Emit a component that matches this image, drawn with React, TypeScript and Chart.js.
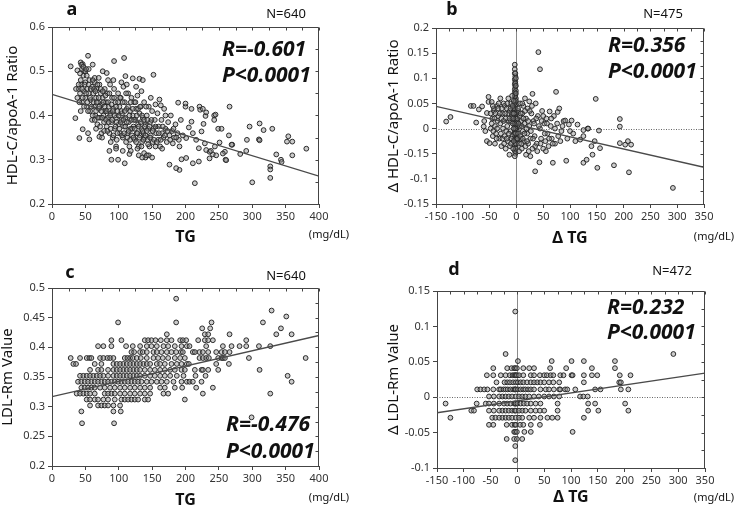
import React, { useEffect, useRef } from "react";
import { Chart, registerables } from "chart.js";

Chart.register(...registerables);

// ---------------- tick labels ----------------
const tgTickLabels = ["0", "50", "100", "150", "200", "250", "300", "350", "400"];
const deltaTgTickLabels = ["-150", "-100", "-50", "0", "50", "100", "150", "200", "250", "300", "350"];
const ratioTickLabels = ["0.2", "0.3", "0.4", "0.5", "0.6"];
// (the original figure repeats "-0.15" at the -0.05 position)
const deltaRatioTickLabels = ["-0.15", "-0.1", "-0.15", "0", "0.05", "0.1", "0.15", "0.2"];
const ldlRmTickLabels = ["0.2", "0.25", "0.3", "0.35", "0.4", "0.45", "0.5"];
const deltaLdlRmTickLabels = ["-0.1", "-0.05", "0", "0.05", "0.1", "0.15"];

// ---------------- panel a : TG vs HDL-C/apoA-1 ratio ----------------
const panelA_TG_Ratio: [number, number][] = [
  [28, 0.511], [54, 0.535], [43, 0.52], [46, 0.516], [93, 0.523], [108, 0.53], [152, 0.492], [266, 0.42],
  [214, 0.247], [300, 0.249], [327, 0.259], [327, 0.285], [381, 0.325], [354, 0.353], [352, 0.341], [360, 0.341],
  [360, 0.31], [343, 0.3], [336, 0.312], [330, 0.37], [311, 0.382], [317, 0.367], [296, 0.375], [310, 0.346],
  [292, 0.345], [291, 0.32], [282, 0.313], [265, 0.355], [270, 0.334], [260, 0.3], [259, 0.318], [249, 0.37],
  [251, 0.339], [244, 0.33], [241, 0.312], [221, 0.42], [222, 0.413], [209, 0.415], [200, 0.42], [200, 0.427],
  [189, 0.429], [230, 0.399], [243, 0.4], [243, 0.39], [227, 0.381], [205, 0.373], [209, 0.386], [211, 0.36],
  [201, 0.349], [216, 0.345], [220, 0.326], [220, 0.296], [211, 0.292], [201, 0.304], [194, 0.301], [191, 0.277],
  [186, 0.281], [176, 0.289], [191, 0.33], [181, 0.337], [236, 0.318], [236, 0.303], [229, 0.337], [224, 0.364],
  [161, 0.436], [163, 0.423], [131, 0.483], [136, 0.48], [121, 0.484], [110, 0.489], [76, 0.5], [82, 0.496],
  [61, 0.515], [38, 0.502], [48, 0.5], [89, 0.3], [99, 0.3], [109, 0.292], [116, 0.313], [96, 0.33],
  [41, 0.349], [54, 0.36], [56, 0.346], [46, 0.369], [35, 0.394], [71, 0.352], [226, 0.415], [231, 0.407],
  [245, 0.402], [254, 0.37], [256, 0.314], [261, 0.299], [246, 0.31], [238, 0.32], [231, 0.322], [269, 0.334],
  [311, 0.344], [344, 0.295], [327, 0.278],
  [40, 0.46], [42, 0.45], [44, 0.47], [45, 0.43], [47, 0.49], [48, 0.455], [50, 0.44], [50, 0.475],
  [52, 0.42], [53, 0.46], [55, 0.45], [56, 0.48], [57, 0.41], [58, 0.435], [60, 0.465], [60, 0.39],
  [43, 0.41], [38, 0.44], [36, 0.46], [50, 0.5], [55, 0.505], [45, 0.505], [42, 0.495], [40, 0.47],
  [44, 0.515], [47, 0.51], [51, 0.505],
  [62, 0.45], [63, 0.42], [64, 0.475], [65, 0.4], [66, 0.44], [67, 0.46], [68, 0.38], [69, 0.43],
  [70, 0.415], [71, 0.47], [72, 0.395], [73, 0.45], [74, 0.36], [75, 0.425], [76, 0.44], [77, 0.4],
  [78, 0.385], [79, 0.46], [80, 0.41], [64, 0.485], [70, 0.485], [75, 0.35], [66, 0.37],
  [81, 0.43], [82, 0.375], [83, 0.45], [84, 0.395], [85, 0.42], [86, 0.36], [87, 0.47], [88, 0.405],
  [89, 0.385], [90, 0.44], [91, 0.35], [92, 0.415], [93, 0.46], [94, 0.37], [95, 0.43], [96, 0.395],
  [97, 0.345], [98, 0.41], [99, 0.45], [100, 0.38], [84, 0.48], [92, 0.48], [88, 0.34], [96, 0.325], [86, 0.32],
  [101, 0.42], [102, 0.36], [103, 0.44], [104, 0.39], [105, 0.405], [106, 0.35], [107, 0.465], [108, 0.375],
  [109, 0.43], [110, 0.395], [111, 0.34], [112, 0.415], [113, 0.36], [114, 0.45], [115, 0.385], [116, 0.33],
  [117, 0.41], [118, 0.37], [119, 0.44], [120, 0.355], [104, 0.475], [112, 0.47], [118, 0.32], [106, 0.32],
  [121, 0.4], [122, 0.375], [123, 0.43], [124, 0.345], [125, 0.39], [126, 0.415], [127, 0.36], [128, 0.445],
  [129, 0.38], [130, 0.33], [131, 0.405], [132, 0.355], [133, 0.42], [134, 0.37], [135, 0.34], [136, 0.395],
  [137, 0.36], [138, 0.43], [139, 0.35], [140, 0.38], [126, 0.465], [134, 0.455], [130, 0.31], [138, 0.315],
  [142, 0.4], [143, 0.345], [144, 0.37], [145, 0.42], [146, 0.33], [147, 0.385], [148, 0.355], [150, 0.41],
  [151, 0.34], [152, 0.37], [154, 0.39], [155, 0.33], [156, 0.36], [158, 0.405], [159, 0.345], [160, 0.375],
  [162, 0.33], [164, 0.39], [165, 0.36], [167, 0.35], [168, 0.415], [170, 0.37], [172, 0.34], [174, 0.385],
  [176, 0.355], [178, 0.4], [180, 0.365], [183, 0.35], [185, 0.38], [188, 0.36], [190, 0.345], [193, 0.39],
  [196, 0.355], [145, 0.31], [150, 0.305], [165, 0.325], [140, 0.305], [148, 0.44], [155, 0.425], [170, 0.4],
  [135, 0.305], [142, 0.31], [128, 0.325],
  [41, 0.43], [43, 0.48], [45, 0.46], [46, 0.44], [48, 0.42], [49, 0.47], [51, 0.45], [52, 0.49],
  [53, 0.43], [54, 0.41], [55, 0.47], [57, 0.44], [58, 0.46], [59, 0.42], [61, 0.48], [61, 0.4],
  [62, 0.43], [63, 0.46], [64, 0.39], [65, 0.455], [66, 0.41], [67, 0.43], [68, 0.47], [69, 0.395],
  [70, 0.44], [71, 0.42], [72, 0.375], [73, 0.46], [74, 0.41], [75, 0.395], [76, 0.455], [77, 0.43],
  [78, 0.365], [79, 0.42], [80, 0.445], [81, 0.39], [82, 0.41], [83, 0.365], [84, 0.43], [85, 0.385],
  [86, 0.45], [87, 0.4], [88, 0.37], [89, 0.425], [90, 0.39], [91, 0.41], [92, 0.355], [93, 0.44],
  [94, 0.4], [95, 0.375], [96, 0.42], [97, 0.385], [98, 0.36], [99, 0.43], [100, 0.4], [101, 0.37],
  [102, 0.44], [103, 0.385], [104, 0.41], [105, 0.355], [106, 0.43], [107, 0.39], [108, 0.36], [109, 0.41],
  [110, 0.375], [111, 0.45], [112, 0.385], [113, 0.35], [114, 0.42], [115, 0.365], [116, 0.4], [117, 0.345],
  [118, 0.43], [119, 0.39], [120, 0.37], [121, 0.415], [122, 0.35], [123, 0.39], [124, 0.37], [125, 0.43],
  [126, 0.34], [127, 0.4], [128, 0.36], [129, 0.415], [130, 0.375], [131, 0.35], [132, 0.42], [133, 0.385],
  [134, 0.33], [135, 0.4], [136, 0.365], [137, 0.345], [138, 0.39], [139, 0.375], [140, 0.355], [141, 0.42],
  [142, 0.365], [143, 0.39], [144, 0.335], [146, 0.375], [147, 0.35], [149, 0.39], [151, 0.365], [153, 0.345],
  [155, 0.375], [157, 0.34], [160, 0.36], [163, 0.345], [166, 0.375], [169, 0.355], [173, 0.365], [177, 0.345],
  [182, 0.37], [186, 0.35],
];
const fitA_TG = [0, 400];
const fitA_Ratio = [0.448, 0.263];

// ---------------- panel b : ΔTG vs ΔHDL-C/apoA-1 ratio ----------------
const panelB_dTG_dRatio: [number, number][] = [
  [-3, 0.127], [-3, 0.118], [-3, 0.11], [-2, 0.104], [-3, 0.098], [-2, 0.093], [-3, 0.088], [-2, 0.083],
  [-3, 0.078], [-1, 0.075], [-3, 0.072], [-2, 0.068], [-3, 0.064], [-1, 0.06], [-2, 0.056], [-3, 0.052],
  [-1, 0.048], [-2, 0.044], [-3, 0.04], [-1, 0.036], [-2, 0.032], [-3, 0.028], [-1, 0.024], [-2, 0.02],
  [-3, 0.016], [-1, 0.012], [-2, 0.008], [-3, 0.004], [-1, 0.0], [-2, -0.004], [-3, -0.008], [-1, -0.012],
  [-2, -0.016], [-3, -0.02], [-1, -0.024], [-2, -0.028], [-3, -0.032], [-2, -0.038], [-3, -0.044], [-2, -0.05],
  [-3, -0.055], [0, 0.02], [0, 0.0], [0, -0.01], [0, 0.01], [1, 0.005], [1, -0.005], [0, 0.03],
  [0, -0.02], [1, 0.015], [-4, 0.01], [-4, -0.01], [-4, 0.03], [-4, 0.05],
  [-2, 0.09], [-1, 0.1], [-1, 0.085], [-2, 0.11], [-2, 0.065], [-1, 0.07], [-2, 0.0], [-1, -0.03],
  [-2, -0.045], [-1, -0.04], [-2, -0.01], [-1, 0.055],
  [-131, 0.014], [-123, 0.023], [-85, 0.045], [-80, 0.045], [-75, 0.012], [-70, 0.038], [-64, 0.044], [-61, 0.004],
  [-55, 0.031], [-52, 0.063], [-52, 0.053], [-46, 0.053], [-55, -0.025], [-50, -0.029], [-60, 0.015], [-58, -0.005],
  [-48, 0.0], [-45, 0.02], [-44, -0.015], [-42, 0.035], [-42, 0.04], [-40, 0.005], [-40, -0.03], [-38, -0.01],
  [-36, 0.045], [-35, 0.015], [-34, 0.025], [-33, 0.05], [-32, -0.02], [-30, 0.06], [-30, 0.01], [-28, -0.035],
  [-28, 0.02], [-26, 0.03], [-26, -0.02], [-25, 0.0], [-24, 0.05], [-22, -0.015], [-22, 0.045], [-20, 0.02],
  [-20, -0.04], [-19, -0.005], [-18, 0.04], [-17, 0.005], [-16, -0.025], [-15, 0.06], [-15, 0.03], [-14, 0.015],
  [-13, -0.052], [-12, 0.035], [-12, -0.035], [-11, -0.005], [-10, 0.05], [-10, -0.03], [-10, 0.015], [-9, 0.025],
  [-8, -0.015], [-8, 0.065], [-8, 0.03], [-7, 0.01], [-6, -0.04], [-6, 0.04], [-5, 0.0], [-5, 0.055],
  [-48, 0.03], [-46, 0.01], [-44, 0.045], [-43, -0.005], [-41, 0.02], [-39, 0.03], [-37, -0.02], [-36, 0.0],
  [-34, 0.04], [-31, 0.03], [-29, -0.01], [-27, 0.04], [-24, 0.015], [-23, -0.03], [-21, 0.03], [-18, -0.02],
  [-17, 0.05], [-14, -0.01], [-13, 0.02], [-11, 0.04], [-9, -0.02], [-7, 0.045], [-6, 0.02], [-5, -0.025],
  [-5, 0.03],
  [2, 0.02], [3, -0.01], [4, 0.035], [5, -0.03], [6, 0.005], [7, 0.05], [8, -0.02], [9, 0.015],
  [10, -0.04], [11, 0.03], [12, -0.005], [13, 0.045], [14, -0.025], [15, 0.01], [16, 0.06], [17, -0.035],
  [18, 0.02], [18, -0.052], [20, -0.01], [21, 0.04], [22, -0.03], [24, 0.054], [24, 0.005], [26, -0.055],
  [26, -0.02], [28, 0.03], [30, 0.069], [30, -0.04], [32, 0.015], [34, -0.015], [35, -0.085], [36, 0.05],
  [38, -0.03], [40, 0.025], [41, 0.152], [43, -0.067], [44, 0.118], [44, 0.0], [46, -0.02], [48, 0.035],
  [50, -0.04], [52, 0.01], [54, -0.025], [56, 0.02], [58, -0.01], [60, -0.035], [62, 0.034], [64, 0.005],
  [66, -0.02], [68, -0.068], [70, 0.025], [72, -0.03], [74, 0.073], [76, 0.01], [77, 0.033], [78, -0.015],
  [2, -0.02], [3, 0.04], [4, 0.01], [5, -0.045], [6, 0.025], [7, -0.015], [8, 0.03], [9, -0.03],
  [10, 0.005], [11, 0.05], [12, -0.02], [13, 0.02], [15, -0.01], [16, 0.035], [19, 0.0], [20, -0.025],
  [22, 0.015], [23, -0.045], [25, 0.035], [27, -0.005], [29, 0.045], [31, -0.02], [33, 0.01], [35, -0.035],
  [37, 0.02], [39, -0.045], [42, 0.005], [45, -0.03], [47, 0.015], [50, 0.025], [53, -0.01], [55, -0.045],
  [57, 0.01], [61, -0.02], [65, 0.02], [68, -0.03], [72, 0.0], [82, -0.025], [86, 0.005], [100, -0.005],
  [80, 0.04], [84, -0.005], [88, 0.015], [91, 0.016], [93, -0.064], [95, -0.02], [98, 0.008], [103, 0.016],
  [106, -0.01], [110, -0.025], [114, 0.008], [119, -0.022], [125, -0.003], [125, -0.015], [125, -0.068], [131, -0.062],
  [133, 0.0], [134, 0.0], [140, -0.035], [142, -0.052], [146, -0.025], [148, 0.059], [151, -0.078], [154, -0.004],
  [156, -0.039], [182, -0.073], [193, 0.019], [193, 0.004], [193, -0.029], [203, -0.032], [208, -0.025], [210, -0.087],
  [214, -0.032], [292, -0.118],
];
const fitB_dTG = [-150, 350];
const fitB_dRatio = [0.044, -0.077];

// ---------------- panel c : TG vs LDL-Rm value (values recorded in 0.01 steps) ----------------
const panelC_LdlRmLevels = [
  0.482, 0.462, 0.452, 0.442, 0.432, 0.422, 0.412, 0.402, 0.392, 0.382,
  0.372, 0.362, 0.352, 0.342, 0.332, 0.322, 0.312, 0.302, 0.292, 0.282, 0.272,
];
const panelC_TGAtLevel: number[][] = [
  [186],
  [329],
  [351],
  [99, 186, 239, 316],
  [225, 237, 343],
  [172, 229, 234, 266, 336, 359],
  [89, 104, 139, 144, 149, 155, 163, 172, 179, 192, 196, 201, 219, 229, 234, 241, 291],
  [69, 77, 89, 111, 121, 132, 142, 149, 157, 167, 174, 184, 194, 202, 206, 231, 256, 269, 281, 291, 310, 327],
  [119, 123, 132, 136, 142, 152, 157, 164, 172, 179, 186, 193, 196, 211, 214, 221, 226, 234, 246, 254, 259, 266],
  [28, 42, 52, 56, 59, 72, 77, 83, 87, 92, 109, 113, 117, 121, 127, 133, 142, 152, 159, 166, 174, 184, 192,
    199, 221, 226, 231, 235, 249, 254, 256, 259, 295, 380],
  [32, 36, 64, 74, 92, 97, 102, 107, 112, 117, 122, 127, 132, 137, 142, 147, 157, 162, 169, 179, 187, 194, 202,
    205, 246, 265],
  [57, 69, 74, 84, 92, 97, 102, 107, 112, 117, 122, 127, 132, 139, 147, 154, 162, 169, 177, 184, 194,
    199, 214, 224, 226, 234, 249, 311],
  [42, 47, 52, 57, 62, 67, 72, 77, 84, 92, 97, 102, 107, 112, 117, 122, 127, 132, 139, 147, 154, 162, 169, 177,
    187, 197, 215, 230, 353],
  [39, 44, 49, 54, 59, 64, 69, 74, 79, 84, 89, 94, 99, 104, 109, 114, 119, 124, 129, 134, 142, 149, 157, 164,
    172, 182, 194, 202, 206, 211, 224, 359],
  [44, 49, 54, 59, 64, 72, 79, 87, 94, 102, 109, 117, 124, 132, 139, 147, 162, 169, 184, 195, 216, 241],
  [37, 42, 47, 52, 57, 64, 79, 84, 89, 94, 102, 109, 117, 124, 132, 139, 147, 167, 174, 226, 327],
  [52, 57, 64, 69, 77, 84, 94, 104, 109, 114, 119, 124, 129, 139, 144, 199],
  [57, 69, 74, 79, 84, 92, 102],
  [44, 92, 103],
  [299],
  [45, 93],
];
const fitC_TG = [0, 400];
const fitC_LdlRm = [0.317, 0.42];

// ---------------- panel d : ΔTG vs ΔLDL-Rm value (values recorded in 0.01 steps) ----------------
const panelD_dLdlRmLevels = [
  0.121, 0.061, 0.051, 0.041, 0.031, 0.021, 0.011, 0.001, -0.009, -0.019,
  -0.029, -0.039, -0.049, -0.059, -0.069, -0.089,
];
const panelD_dTGAtLevel: number[][] = [
  [-4],
  [-22, 291],
  [1, 64, 101, 124, 182],
  [-45, -19, -11, -6, -4, -1, 11, 22, 31, 61, 91, 139, 182],
  [-57, -45, -31, -22, -14, -9, -6, -4, -3, -1, 3, 11, 25, 31, 42, 50, 55, 62, 67, 80, 86, 101, 103, 124, 139, 149, 191, 211],
  [-39, -24, -19, -14, -8, -3, 1, 6, 11, 18, 25, 31, 37, 43, 50, 59, 67, 78, 124, 190, 193],
  [-75, -69, -62, -56, -45, -34, -31, -26, -22, -18, -13, -8, -5, -4, -3, 1, 6, 11, 15, 20, 25, 31, 43, 53, 59, 68, 78,
    80, 89, 93, 108, 145, 155, 193, 207],
  [-53, -44, -34, -28, -22, -16, -10, -3, 3, 9, 15, 22, 31, 40, 50, 59, 68, 78, 117, 123, 131],
  [-134, -76, -59, -53, -44, -34, -25, -19, -13, -6, -4, -3, 0, 6, 12, 18, 25, 34, 43, 75, 132, 145, 201],
  [-86, -81, -53, -44, -34, -28, -22, -16, -10, -5, -3, 3, 9, 15, 25, 34, 42, 50, 75, 132, 151, 207],
  [-125, -47, -41, -34, -28, -22, -16, -10, -3, 3, 9, 22, 31, 43, 56, 65, 75, 124],
  [-53, -45, -20, -10, -5, -3, 5, 11, 25, 42],
  [-6, -4, -1, 13, 25, 103],
  [-20, -6, -1, 9],
  [-4],
  [-4],
];
const fitD_dTG = [-150, 350];
const fitD_dLdlRm = [-0.022, 0.034];

// ---------------- rendering ----------------
const FONT = '"Noto Sans", "DejaVu Sans", sans-serif';

type TextItem = { text: string; x: number; y: number; size: number; style?: string; align?: CanvasTextAlign };

type PanelCfg = {
  left: number;
  top: number;
  width: number;
  height: number;
  area: { left: number; right: number; top: number; bottom: number };
  points: { x: number; y: number }[];
  fit: { x: number; y: number }[];
  xMin: number; xMax: number; xStep: number; xLabels: string[];
  yMin: number; yMax: number; yStep: number; yLabels: string[];
  xTitle: string; xTitlePad: number;
  yTitle: string; yTitlePad: number;
  zeroLines: boolean;
  texts: TextItem[];
};

const pairs = (arr: [number, number][]) => arr.map(([x, y]) => ({ x, y }));
const levelsToPoints = (levels: number[], xs: number[][]) =>
  levels.flatMap((lv, i) => xs[i].map((x) => ({ x, y: lv })));
const fitLine = (xs: number[], ys: number[]) => xs.map((x, i) => ({ x, y: ys[i] }));

const W = 367;
const H = 255;

const panels: PanelCfg[] = [
  {
    left: 0, top: 0, width: W, height: H,
    area: { left: 52, right: 319, top: 27, bottom: 204 },
    points: pairs(panelA_TG_Ratio),
    fit: fitLine(fitA_TG, fitA_Ratio),
    xMin: 0, xMax: 400, xStep: 50, xLabels: tgTickLabels,
    yMin: 0.2, yMax: 0.6, yStep: 0.1, yLabels: ratioTickLabels,
    xTitle: "TG", xTitlePad: 10,
    yTitle: "HDL-C/apoA-1 Ratio", yTitlePad: 5,
    zeroLines: false,
    texts: [
      { text: "a", x: 72, y: 10, size: 18, style: "bold", align: "center" },
      { text: "N=640", x: 286, y: 14, size: 13, align: "center" },
      { text: "R=-0.601", x: 222, y: 50, size: 21, style: "italic bold", align: "left" },
      { text: "P<0.0001", x: 222, y: 76, size: 21, style: "italic bold", align: "left" },
      { text: "(mg/dL)", x: 329, y: 235, size: 11, align: "center" },
    ],
  },
  {
    left: 367, top: 0, width: W, height: H,
    area: { left: 69, right: 337, top: 28, bottom: 204 },
    points: pairs(panelB_dTG_dRatio),
    fit: fitLine(fitB_dTG, fitB_dRatio),
    xMin: -150, xMax: 350, xStep: 50, xLabels: deltaTgTickLabels,
    yMin: -0.15, yMax: 0.2, yStep: 0.05, yLabels: deltaRatioTickLabels,
    xTitle: "Δ TG", xTitlePad: 9,
    yTitle: "Δ HDL-C/apoA-1 Ratio", yTitlePad: 19,
    zeroLines: true,
    texts: [
      { text: "b", x: 85, y: 10, size: 18, style: "bold", align: "center" },
      { text: "N=475", x: 296, y: 14, size: 13, align: "center" },
      { text: "R=0.356", x: 241, y: 46, size: 21, style: "italic bold", align: "left" },
      { text: "P<0.0001", x: 241, y: 72, size: 21, style: "italic bold", align: "left" },
      { text: "(mg/dL)", x: 347, y: 237, size: 11, align: "center" },
    ],
  },
  {
    left: 0, top: 255, width: W, height: H,
    area: { left: 52, right: 319, top: 33, bottom: 211 },
    points: levelsToPoints(panelC_LdlRmLevels, panelC_TGAtLevel),
    fit: fitLine(fitC_TG, fitC_LdlRm),
    xMin: 0, xMax: 400, xStep: 50, xLabels: tgTickLabels,
    yMin: 0.2, yMax: 0.5, yStep: 0.05, yLabels: ldlRmTickLabels,
    xTitle: "TG", xTitlePad: 2,
    yTitle: "LDL-Rm Value", yTitlePad: 0,
    zeroLines: false,
    texts: [
      { text: "c", x: 70, y: 18, size: 18, style: "bold", align: "center" },
      { text: "N=640", x: 286, y: 21, size: 13, align: "center" },
      { text: "R=-0.476", x: 226, y: 170, size: 21, style: "italic bold", align: "left" },
      { text: "P<0.0001", x: 226, y: 197, size: 21, style: "italic bold", align: "left" },
      { text: "(mg/dL)", x: 329, y: 243, size: 11, align: "center" },
    ],
  },
  {
    left: 367, top: 255, width: W, height: H,
    area: { left: 70, right: 338, top: 36, bottom: 213 },
    points: levelsToPoints(panelD_dLdlRmLevels, panelD_dTGAtLevel),
    fit: fitLine(fitD_dTG, fitD_dLdlRm),
    xMin: -150, xMax: 350, xStep: 50, xLabels: deltaTgTickLabels,
    yMin: -0.1, yMax: 0.15, yStep: 0.05, yLabels: deltaLdlRmTickLabels,
    xTitle: "Δ TG", xTitlePad: 5,
    yTitle: "Δ LDL-Rm Value", yTitlePad: 19,
    zeroLines: true,
    texts: [
      { text: "d", x: 87, y: 15, size: 18, style: "bold", align: "center" },
      { text: "N=472", x: 305, y: 16, size: 13, align: "center" },
      { text: "R=0.232", x: 240, y: 53, size: 21, style: "italic bold", align: "left" },
      { text: "P<0.0001", x: 240, y: 78, size: 21, style: "italic bold", align: "left" },
      { text: "(mg/dL)", x: 347, y: 243, size: 11, align: "center" },
    ],
  },
];

function makeChart(canvas: HTMLCanvasElement, p: PanelCfg) {
  const labelFor = (labels: string[], min: number, step: number) => (value: any) => {
    const idx = Math.round((Number(value) - min) / step);
    return labels[idx] ?? "";
  };

  const decor = {
    id: "decor",
    beforeDatasetsDraw(chart: any) {
      if (!p.zeroLines) return;
      const { ctx, chartArea } = chart;
      const xs = chart.scales.x;
      const ys = chart.scales.y;
      ctx.save();
      const x0 = Math.round(xs.getPixelForValue(0)) + 0.5;
      ctx.strokeStyle = "#8a8a8a";
      ctx.lineWidth = 1;
      ctx.beginPath();
      ctx.moveTo(x0, chartArea.top);
      ctx.lineTo(x0, chartArea.bottom);
      ctx.stroke();
      const y0 = Math.round(ys.getPixelForValue(0)) + 0.5;
      ctx.setLineDash([1, 1.5]);
      ctx.strokeStyle = "#666";
      ctx.beginPath();
      ctx.moveTo(chartArea.left, y0);
      ctx.lineTo(chartArea.right, y0);
      ctx.stroke();
      ctx.restore();
    },
    afterDatasetsDraw(chart: any) {
      const { ctx, chartArea } = chart;
      const xs = chart.scales.x;
      const ys = chart.scales.y;
      ctx.save();
      ctx.strokeStyle = "#444";
      ctx.lineWidth = 1;
      const top = Math.round(chartArea.top) + 0.5;
      const right = Math.round(chartArea.right) - 0.5;
      ctx.beginPath();
      ctx.moveTo(chartArea.left, top);
      ctx.lineTo(right, top);
      ctx.lineTo(right, chartArea.bottom);
      ctx.stroke();
      // inner minor ticks along top and right edges
      const nx = Math.round((p.xMax - p.xMin) / (p.xStep / 2));
      ctx.beginPath();
      for (let i = 0; i <= nx; i++) {
        const px = Math.round(xs.getPixelForValue(p.xMin + (i * p.xStep) / 2)) + 0.5;
        ctx.moveTo(px, top);
        ctx.lineTo(px, top + 3);
      }
      const ny = Math.round((p.yMax - p.yMin) / (p.yStep / 2));
      for (let i = 0; i <= ny; i++) {
        const py = Math.round(ys.getPixelForValue(p.yMin + (i * p.yStep) / 2)) + 0.5;
        ctx.moveTo(right, py);
        ctx.lineTo(right - 3, py);
      }
      ctx.stroke();
      ctx.restore();
    },
    afterDraw(chart: any) {
      const { ctx } = chart;
      ctx.save();
      ctx.fillStyle = "#111";
      ctx.textBaseline = "middle";
      for (const t of p.texts) {
        ctx.font = `${t.style ?? "normal"} ${t.size}px ${FONT}`;
        ctx.textAlign = t.align ?? "left";
        ctx.fillText(t.text, t.x, t.y);
      }
      ctx.restore();
    },
  };

  return new Chart(canvas, {
    type: "scatter",
    data: {
      datasets: [
        {
          type: "line",
          data: p.fit,
          borderColor: "#4a4a4a",
          borderWidth: 1.3,
          pointRadius: 0,
          fill: false,
          order: 0,
        } as any,
        {
          data: p.points,
          pointRadius: 2.4,
          pointBorderWidth: 1,
          borderColor: "#2a2a2a",
          backgroundColor: "rgba(140,140,140,0.45)",
          order: 1,
        },
      ],
    },
    options: {
      animation: false,
      responsive: false,
      events: [],
      layout: {
        padding: { left: 0, top: p.area.top, right: p.width - p.area.right, bottom: 0 },
      },
      plugins: { legend: { display: false }, tooltip: { enabled: false } },
      scales: {
        x: {
          type: "linear",
          min: p.xMin,
          max: p.xMax,
          afterFit: (s: any) => {
            s.height = p.height - p.area.bottom;
          },
          ticks: {
            stepSize: p.xStep,
            autoSkip: false,
            maxRotation: 0,
            padding: 2,
            color: "#333",
            font: { family: FONT, size: 11 },
            callback: labelFor(p.xLabels, p.xMin, p.xStep),
          },
          grid: { drawOnChartArea: false, drawTicks: true, tickLength: 4, color: "#444", tickColor: "#444" },
          border: { display: true, color: "#444", width: 1 },
          title: {
            display: true,
            text: p.xTitle,
            color: "#111",
            font: { family: FONT, size: 16, weight: "bold", lineHeight: 1 },
            padding: { top: 0, bottom: p.xTitlePad },
          },
        },
        y: {
          type: "linear",
          min: p.yMin,
          max: p.yMax,
          afterFit: (s: any) => {
            s.width = p.area.left;
          },
          ticks: {
            stepSize: p.yStep,
            autoSkip: false,
            padding: 3,
            color: "#333",
            font: { family: FONT, size: 11 },
            callback: labelFor(p.yLabels, p.yMin, p.yStep),
          },
          grid: { drawOnChartArea: false, drawTicks: true, tickLength: 4, color: "#444", tickColor: "#444" },
          border: { display: true, color: "#444", width: 1 },
          title: {
            display: true,
            text: p.yTitle,
            color: "#111",
            font: { family: FONT, size: 15, lineHeight: 1 },
            padding: { top: p.yTitlePad, bottom: 0 },
          },
        },
      },
    },
    plugins: [decor as any],
  } as any);
}

function Panel({ cfg }: { cfg: PanelCfg }) {
  const ref = useRef<HTMLCanvasElement | null>(null);
  useEffect(() => {
    if (!ref.current) return;
    const chart = makeChart(ref.current, cfg);
    return () => chart.destroy();
  }, [cfg]);
  return (
    <canvas
      ref={ref}
      width={cfg.width}
      height={cfg.height}
      style={{ position: "absolute", left: cfg.left, top: cfg.top, width: cfg.width, height: cfg.height }}
    />
  );
}

export default function App() {
  return (
    <div style={{ position: "absolute", left: 0, top: 0, width: 734, height: 510, background: "#fff" }}>
      {panels.map((p, i) => (
        <Panel key={i} cfg={p} />
      ))}
    </div>
  );
}
